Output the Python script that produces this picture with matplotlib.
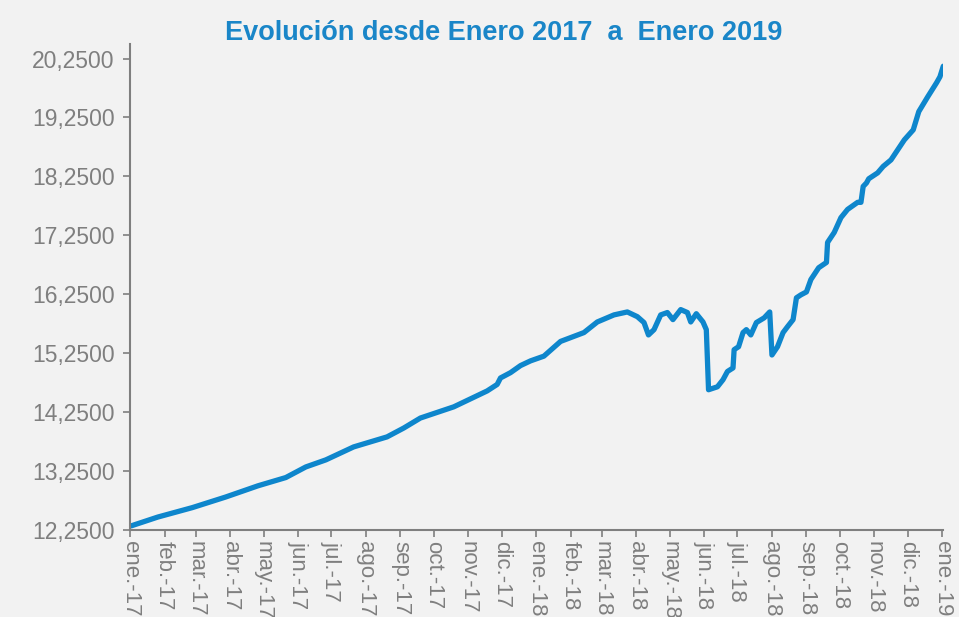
import matplotlib
matplotlib.use("Agg")
import matplotlib.pyplot as plt
import numpy as np
import pandas as pd

# values
dates = ["2017-01-02", "2017-01-26", "2017-02-26", "2017-03-28", "2017-04-26",
         "2017-05-21", "2017-06-08", "2017-06-26", "2017-07-21", "2017-08-20",
         "2017-09-04", "2017-09-19", "2017-10-19", "2017-11-18", "2017-11-27",
         "2017-11-30", "2017-12-09", "2017-12-18", "2017-12-27", "2018-01-08",
         "2018-01-23", "2018-02-13", "2018-02-25", "2018-03-12", "2018-03-24",
         "2018-04-02", "2018-04-08", "2018-04-12", "2018-04-17", "2018-04-23",
         "2018-04-29", "2018-05-04", "2018-05-11", "2018-05-17", "2018-05-20",
         "2018-05-25", "2018-05-31", "2018-06-03", "2018-06-05", "2018-06-13",
         "2018-06-18", "2018-06-22", "2018-06-27", "2018-06-28", "2018-07-02",
         "2018-07-06", "2018-07-09", "2018-07-13", "2018-07-18", "2018-07-25",
         "2018-07-30", "2018-08-01", "2018-08-06", "2018-08-11", "2018-08-15",
         "2018-08-20", "2018-08-23", "2018-08-27", "2018-09-01", "2018-09-05",
         "2018-09-12", "2018-09-19", "2018-09-20", "2018-09-26", "2018-10-02",
         "2018-10-08", "2018-10-17", "2018-10-20", "2018-10-22", "2018-10-25",
         "2018-10-27", "2018-11-04", "2018-11-09", "2018-11-16", "2018-11-22",
         "2018-11-28", "2018-12-06", "2018-12-11", "2018-12-19", "2018-12-27",
         "2018-12-30", "2019-01-02"]
values = [12.32, 12.47, 12.63, 12.81, 13.00,
          13.14, 13.32, 13.44, 13.66, 13.83,
          13.98, 14.15, 14.34, 14.61, 14.72,
          14.83, 14.92, 15.04, 15.12, 15.20,
          15.45, 15.60, 15.78, 15.90, 15.95,
          15.87, 15.77, 15.56, 15.65, 15.90,
          15.94, 15.82, 15.99, 15.94, 15.78,
          15.92, 15.78, 15.65, 14.63, 14.68,
          14.80, 14.94, 15.00, 15.31, 15.36,
          15.60, 15.65, 15.56, 15.77, 15.85,
          15.95, 15.22, 15.36, 15.60, 15.70,
          15.82, 16.19, 16.24, 16.29, 16.50,
          16.70, 16.79, 17.13, 17.30, 17.55,
          17.69, 17.81, 17.81, 18.08, 18.14,
          18.21, 18.31, 18.42, 18.53, 18.70,
          18.87, 19.04, 19.35, 19.60, 19.84,
          19.94, 20.12]

month_labels = ["ene.-17", "feb.-17", "mar.-17", "abr.-17", "may.-17", "jun.-17",
                "jul.-17", "ago.-17", "sep.-17", "oct.-17", "nov.-17", "dic.-17",
                "ene.-18", "feb.-18", "mar.-18", "abr.-18", "may.-18", "jun.-18",
                "jul.-18", "ago.-18", "sep.-18", "oct.-18", "nov.-18", "dic.-18",
                "ene.-19"]
y_ticks = [12.25, 13.25, 14.25, 15.25, 16.25, 17.25, 18.25, 19.25, 20.25]

title = "Evolución desde Enero 2017  a  Enero 2019"

bg = "#f2f2f2"
blue = "#0e86cc"
grey = "#7f7f7f"

plt.rcParams['font.family'] = ['Liberation Sans', 'DejaVu Sans']

fig = plt.figure(figsize=(9.59, 6.17), dpi=100, facecolor=bg)
ax = fig.add_axes([0.1356, 0.141, 0.848, 0.788])
ax.set_facecolor(bg)

x = pd.to_datetime(dates)
ax.plot(x, values, color=blue, lw=3.8, solid_joinstyle='round', solid_capstyle='round')

ax.set_ylim(12.25, 20.5)
ax.set_yticks(y_ticks)
ax.set_yticklabels([f"{v:.4f}".replace(".", ",") for v in y_ticks])

month_pos = pd.date_range("2017-01-01", "2019-01-01", freq="MS")
ax.set_xlim(month_pos[0], pd.Timestamp("2019-01-02"))
ax.set_xticks(month_pos)
ax.set_xticklabels(month_labels, rotation=-90, ha='center', va='top')

ax.tick_params(axis='both', colors=grey, labelcolor=grey,
               length=5, width=1.2, direction='out')
ax.tick_params(axis='x', pad=3, labelsize=16)
ax.tick_params(axis='y', pad=6, labelsize=16.5)

for s in ['top', 'right']:
    ax.spines[s].set_visible(False)
for s in ['left', 'bottom']:
    ax.spines[s].set_color(grey)
    ax.spines[s].set_linewidth(1.5)

fig.text(0.525, 0.947, title, color="#1a86c8", fontsize=19.5, fontweight='bold',
         ha='center', va='center')

fig.savefig("out.png", dpi=100, facecolor=bg)
